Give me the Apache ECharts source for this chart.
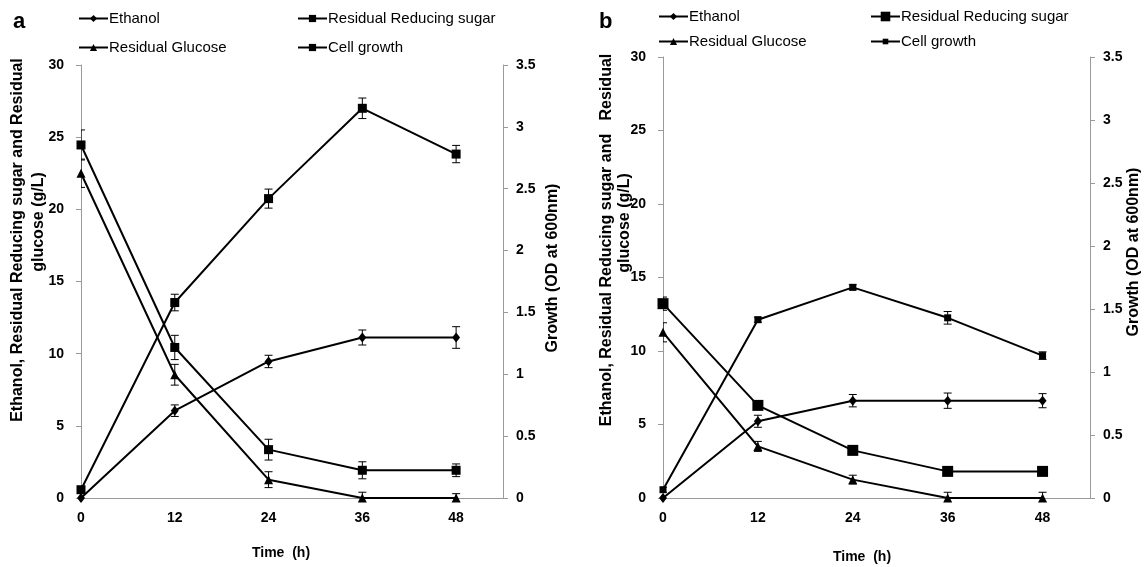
<!DOCTYPE html>
<html>
<head>
<meta charset="utf-8">
<script src="https://cdn.jsdelivr.net/npm/echarts@6/dist/echarts.min.js"></script>
<style>
html,body{margin:0;padding:0;background:#fff;}
#chart{width:1144px;height:567px;}
</style>
</head>
<body>
<div id="chart"></div>
<script>
const times = [0, 12, 24, 36, 48];
const xTickLabels = ['0', '12', '24', '36', '48'];
const seriesNames = ['Ethanol', 'Residual Reducing sugar', 'Residual Glucose', 'Cell growth'];

// Panel a
const aEthanol = [0, 6.05, 9.46, 11.12, 11.12];
const aEthanolErr = [0, 0.40, 0.43, 0.52, 0.75];
const aSugar = [24.46, 10.43, 3.35, 1.92, 1.92];
const aSugarErr = [1.04, 0.84, 0.72, 0.59, 0.44];
const aGlucose = [22.5, 8.54, 1.27, 0, 0];
const aGlucoseErr = [0.98, 0.72, 0.55, 0.4, 0.3];
const aGrowth = [0.067, 1.58, 2.42, 3.15, 2.78];
const aGrowthErr = [0.02, 0.067, 0.077, 0.083, 0.07];

// Panel b
const bEthanol = [0, 5.22, 6.62, 6.62, 6.62];
const bEthanolErr = [0, 0.41, 0.42, 0.52, 0.48];
const bSugar = [13.22, 6.3, 3.24, 1.81, 1.81];
const bSugarErr = [0.45, 0.25, 0.25, 0.2, 0.2];
const bGlucose = [11.27, 3.51, 1.25, 0, 0];
const bGlucoseErr = [0.65, 0.34, 0.3, 0.39, 0.39];
const bGrowth = [0.066, 1.415, 1.672, 1.43, 1.13];
const bGrowthErr = [0.02, 0.02, 0.02, 0.05, 0.03];

const FONT = "'Liberation Sans', Arial, sans-serif";
const AXIS_GRAY = '#9a9a9a';

function pts(vals) { return times.map((t, i) => [t, vals[i]]); }
function errPts(vals, errs) {
  const out = [];
  times.forEach((t, i) => { if (errs[i] > 0) out.push([t, vals[i] - errs[i], vals[i] + errs[i]]); });
  return out;
}
function errSeries(vals, errs, xi, yi) {
  return {
    type: 'custom', xAxisIndex: xi, yAxisIndex: yi, z: 1, clip: true, silent: true,
    data: errPts(vals, errs),
    encode: { x: 0, y: [1, 2] },
    renderItem: function (params, api) {
      const x = api.value(0);
      const lo = api.coord([x, api.value(1)]);
      const hi = api.coord([x, api.value(2)]);
      const cw = 4;
      const st = { stroke: '#000', lineWidth: 1 };
      return {
        type: 'group',
        children: [
          { type: 'line', shape: { x1: lo[0], y1: lo[1], x2: hi[0], y2: hi[1] }, style: st },
          { type: 'line', shape: { x1: lo[0] - cw, y1: lo[1], x2: lo[0] + cw, y2: lo[1] }, style: st },
          { type: 'line', shape: { x1: hi[0] - cw, y1: hi[1], x2: hi[0] + cw, y2: hi[1] }, style: st }
        ]
      };
    }
  };
}
function lineSeries(name, vals, xi, yi, symbol, size) {
  return {
    name: name, type: 'line', xAxisIndex: xi, yAxisIndex: yi, z: 3,
    data: pts(vals), symbol: symbol, symbolSize: size,
    lineStyle: { color: '#000', width: 2 },
    itemStyle: { color: '#000', borderWidth: 0 },
    showAllSymbol: true
  };
}
function xAxisCfg(gi) {
  return {
    type: 'value', gridIndex: gi, min: 0, max: 54, interval: 12,
    axisLine: { show: true, onZero: false, lineStyle: { color: AXIS_GRAY, width: 1 } },
    axisTick: { show: false },
    splitLine: { show: false },
    axisLabel: {
      margin: 13, color: '#000', fontWeight: 'bold', fontSize: 14, fontFamily: FONT,
      formatter: v => { const s = String(v); return xTickLabels.indexOf(s) >= 0 ? s : ''; }
    }
  };
}
function yAxisCfg(gi, pos, max, interval, margin) {
  return {
    type: 'value', gridIndex: gi, position: pos, min: 0, max: max, interval: interval,
    axisLine: { show: true, lineStyle: { color: AXIS_GRAY, width: 1 } },
    axisTick: { show: true, inside: false, length: 5, lineStyle: { color: AXIS_GRAY } },
    splitLine: { show: false },
    axisLabel: { margin: margin, color: '#000', fontWeight: 'bold', fontSize: 14, fontFamily: FONT }
  };
}
function legendCfg(name, left, centerY, h) {
  return {
    data: [name], left: left, top: centerY - 9, padding: 0,
    itemWidth: 29, itemHeight: h, itemGap: 0, selectedMode: false,
    formatter: n => n.replace(/^b:/, ''),
    textStyle: { color: '#000', fontSize: 15, fontFamily: FONT, padding: [0, 0, 0, -4] }
  };
}
function vtext(str, x, y, size, weight) {
  return {
    type: 'text', x: x, y: y, rotation: Math.PI / 2, silent: true,
    style: { text: str, fill: '#000', font: (weight || 'normal') + ' ' + size + 'px ' + FONT, align: 'center', verticalAlign: 'middle' }
  };
}
function htext(str, x, y, size, weight, align) {
  return {
    type: 'text', x: x, y: y, silent: true,
    style: { text: str, fill: '#000', font: (weight || 'normal') + ' ' + size + 'px ' + FONT, align: align || 'center', verticalAlign: 'middle' }
  };
}

const chart = echarts.init(document.getElementById('chart'), null, { renderer: 'canvas' });
const option = {
  animation: false,
  backgroundColor: '#fff',
  grid: [
    { left: 81, top: 65, width: 422, height: 433 },
    { left: 663, top: 57, width: 427, height: 441 }
  ],
  xAxis: [xAxisCfg(0), xAxisCfg(1)],
  yAxis: [
    yAxisCfg(0, 'left', 30, 5, 17),
    yAxisCfg(0, 'right', 3.5, 0.5, 13),
    yAxisCfg(1, 'left', 30, 5, 17),
    yAxisCfg(1, 'right', 3.5, 0.5, 13)
  ],
  legend: [
    legendCfg('Ethanol', 78, 20, 9),
    legendCfg('Residual Reducing sugar', 297, 20, 9),
    legendCfg('Residual Glucose', 78, 49, 9),
    legendCfg('Cell growth', 297, 49, 9),
    legendCfg('b:Ethanol', 658, 18, 9),
    legendCfg('b:Residual Reducing sugar', 870, 18, 12),
    legendCfg('b:Residual Glucose', 658, 43, 9),
    legendCfg('b:Cell growth', 870, 43, 7)
  ],
  series: [
    errSeries(aEthanol, aEthanolErr, 0, 0),
    errSeries(aSugar, aSugarErr, 0, 0),
    errSeries(aGlucose, aGlucoseErr, 0, 0),
    errSeries(aGrowth, aGrowthErr, 0, 1),
    lineSeries(seriesNames[0], aEthanol, 0, 0, 'diamond', [8, 10]),
    lineSeries(seriesNames[1], aSugar, 0, 0, 'rect', 9),
    lineSeries(seriesNames[2], aGlucose, 0, 0, 'triangle', 9),
    lineSeries(seriesNames[3], aGrowth, 0, 1, 'rect', 9),
    errSeries(bEthanol, bEthanolErr, 1, 2),
    errSeries(bSugar, bSugarErr, 1, 2),
    errSeries(bGlucose, bGlucoseErr, 1, 2),
    errSeries(bGrowth, bGrowthErr, 1, 3),
    lineSeries('b:' + seriesNames[0], bEthanol, 1, 2, 'diamond', [8, 10]),
    lineSeries('b:' + seriesNames[1], bSugar, 1, 2, 'rect', 11),
    lineSeries('b:' + seriesNames[2], bGlucose, 1, 2, 'triangle', 9),
    lineSeries('b:' + seriesNames[3], bGrowth, 1, 3, 'rect', 7)
  ],
  graphic: [
    htext('a', 13, 22, 22, 'bold', 'left'),
    htext('b', 599, 22, 22, 'bold', 'left'),
    vtext('Ethanol, Residual Reducing sugar and Residual', 18, 240, 16, 'bold'),
    vtext('glucose (g/L)', 39, 222, 16, 'bold'),
    vtext('Growth (OD at 600nm)', 553, 268, 16, 'bold'),
    htext('Time  (h)', 281, 553, 14, 'bold'),
    vtext('Ethanol, Residual Reducing sugar and   Residual', 607, 240, 16, 'bold'),
    vtext('glucose (g/L)', 625, 223, 16, 'bold'),
    vtext('Growth (OD at 600nm)', 1134, 252, 16, 'bold'),
    htext('Time  (h)', 862, 557, 14, 'bold')
  ]
};
chart.setOption(option);
</script>
</body>
</html>
